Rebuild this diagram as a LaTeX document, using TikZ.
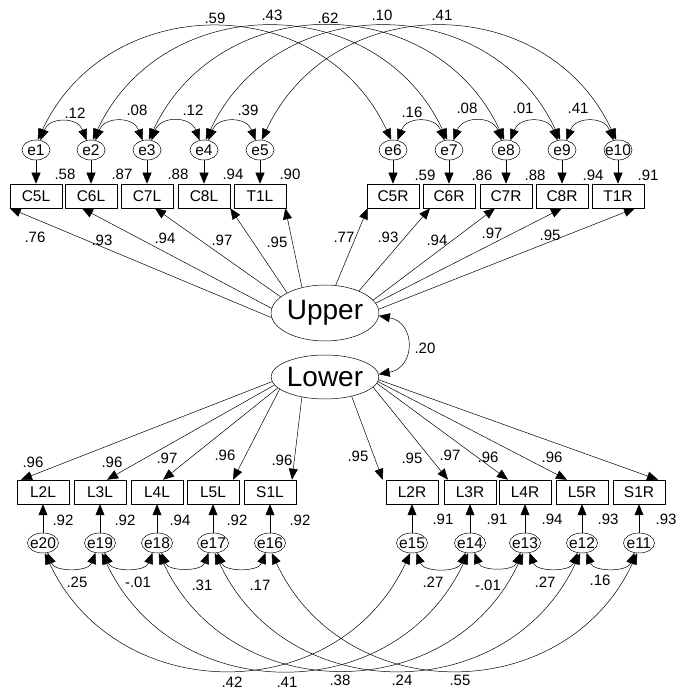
\documentclass[tikz,border=0pt]{standalone}
\usepackage{fontspec}
\setmainfont{Liberation Sans}
\usetikzlibrary{shapes.geometric}
\usetikzlibrary{arrows.meta}

\begin{document}
\begin{tikzpicture}[x=1pt, y=1pt, line width=0.5pt,
  >={Triangle[length=11pt,width=9pt]},
  obs/.style={draw, rectangle, minimum width=52pt, minimum height=24pt,
    inner sep=0pt, font=\fontsize{15.5}{18}\selectfont},
  err/.style={draw, ellipse, minimum width=28pt, minimum height=20pt,
    inner xsep=-4pt, inner ysep=0pt, font=\fontsize{15.5}{18}\selectfont},
  lat/.style={draw, ellipse, minimum width=106pt, inner sep=0pt,
    font=\fontsize{28}{32}\selectfont},
  val/.style={inner sep=0pt, font=\fontsize{15}{17}\selectfont}]
\useasboundingbox (0,0) rectangle (678,696);

% latent factors
\node[lat, minimum height=56pt] (Upper) at (325,383) {Upper};
\node[lat, minimum height=44pt] (Lower) at (325,319) {Lower};
\draw[<->] (Upper.-3) to[out=-10, in=10, looseness=1.65] (Lower.3);
\node[val] (v20) at (425,348) {.20};

% upper indicators
\node[obs] (C5L) at (36,500) {C5L};
\node[obs] (C6L) at (91,500) {C6L};
\node[obs] (C7L) at (147,500) {C7L};
\node[obs] (C8L) at (204,500) {C8L};
\node[obs] (T1L) at (260,500) {T1L};
\node[obs] (C5R) at (393,500) {C5R};
\node[obs] (C6R) at (449,500) {C6R};
\node[obs] (C7R) at (506,500) {C7R};
\node[obs] (C8R) at (562,500) {C8R};
\node[obs] (T1R) at (618,500) {T1R};

\node[err] (e1) at (36,546) {e1};
\node[err] (e2) at (91,546) {e2};
\node[err] (e3) at (147,546) {e3};
\node[err] (e4) at (204,546) {e4};
\node[err] (e5) at (260,546) {e5};
\node[err] (e6) at (393,546) {e6};
\node[err] (e7) at (449,546) {e7};
\node[err] (e8) at (506,546) {e8};
\node[err] (e9) at (562,546) {e9};
\node[err] (e10) at (618,546) {e10};

% lower indicators
\node[obs] (L2L) at (43,204) {L2L};
\node[obs] (L3L) at (100,204) {L3L};
\node[obs] (L4L) at (157,204) {L4L};
\node[obs] (L5L) at (213,204) {L5L};
\node[obs] (S1L) at (270,204) {S1L};
\node[obs] (L2R) at (412,204) {L2R};
\node[obs] (L3R) at (470,204) {L3R};
\node[obs] (L4R) at (525,204) {L4R};
\node[obs] (L5R) at (582,204) {L5R};
\node[obs] (S1R) at (639,204) {S1R};

\node[err, minimum width=31pt] (e20) at (43,153) {e20};
\node[err, minimum width=31pt] (e19) at (100,153) {e19};
\node[err, minimum width=31pt] (e18) at (157,153) {e18};
\node[err, minimum width=31pt] (e17) at (213,153) {e17};
\node[err, minimum width=31pt] (e16) at (270,153) {e16};
\node[err, minimum width=31pt] (e15) at (412,153) {e15};
\node[err, minimum width=31pt] (e14) at (470,153) {e14};
\node[err, minimum width=31pt] (e13) at (525,153) {e13};
\node[err, minimum width=31pt] (e12) at (582,153) {e12};
\node[err, minimum width=31pt] (e11) at (639,153) {e11};

% loadings of Upper
\draw[->] (Upper.185) -- (C5L.south west);
\draw[->] (Upper.175) -- ([xshift=-9pt]C6L.south);
\draw[->] (Upper.160) -- ([xshift=8pt]C7L.south);
\draw[->] (Upper.152) -- (C8L.south east);
\draw[->] (Upper.132) -- ([xshift=-1pt]T1L.south east);
\draw[->] (Upper.69) -- ([xshift=1pt]C5R.south west);
\draw[->] (Upper.33) -- ([xshift=-19pt]C6R.south);
\draw[->] (Upper.15) -- ([xshift=-11pt]C7R.south);
\draw[->] (Upper.11) -- (C8R.south);
\draw[->] (Upper.4) -- ([xshift=17pt]T1R.south);

\node[val] (w1) at (35,459) {.76};
\node[val] (w2) at (102,456) {.93};
\node[val] (w3) at (165,458) {.94};
\node[val] (w4) at (222,456) {.97};
\node[val] (w5) at (277,454) {.95};
\node[val] (w6) at (344,459) {.77};
\node[val] (w7) at (388,459) {.93};
\node[val] (w8) at (437,456) {.94};
\node[val] (w9) at (492,463) {.97};
\node[val] (w10) at (550,461) {.95};

% loadings of Lower
\draw[->] (Lower.185) -- ([xshift=-22pt]L2L.north);
\draw[->] (Lower.189) -- ([xshift=7pt]L3L.north);
\draw[->] (Lower.193) -- ([xshift=6pt]L4L.north);
\draw[->] (Lower.195) -- ([xshift=20pt]L5L.north);
\draw[->] (Lower.221) -- ([xshift=22pt]S1L.north);
\draw[->] (Lower.324) -- ([xshift=-3pt]L2R.north west);
\draw[->] (Lower.348) -- ([xshift=-22pt]L3R.north);
\draw[->] (Lower.353) -- ([xshift=-17pt]L4R.north);
\draw[->] (Lower.355) -- ([xshift=-15pt]L5R.north);
\draw[->] (Lower.357) -- ([xshift=19pt]S1R.north);

\node[val] (w11) at (33,234) {.96};
\node[val] (w12) at (112,234) {.96};
\node[val] (w13) at (167,238) {.97};
\node[val] (w14) at (225,241) {.96};
\node[val] (w15) at (282,236) {.96};
\node[val] (w16) at (358,240) {.95};
\node[val] (w17) at (412,238) {.95};
\node[val] (w18) at (450,241) {.97};
\node[val] (w19) at (488,239) {.96};
\node[val] (w20) at (552,239) {.96};

% residual paths
\draw[->] (e1) -- (C5L);
\draw[->] (e2) -- (C6L);
\draw[->] (e3) -- (C7L);
\draw[->] (e4) -- (C8L);
\draw[->] (e5) -- (T1L);
\draw[->] (e6) -- (C5R);
\draw[->] (e7) -- (C6R);
\draw[->] (e8) -- (C7R);
\draw[->] (e9) -- (C8R);
\draw[->] (e10) -- (T1R);
\draw[->] (e20) -- (L2L);
\draw[->] (e19) -- (L3L);
\draw[->] (e18) -- (L4L);
\draw[->] (e17) -- (L5L);
\draw[->] (e16) -- (S1L);
\draw[->] (e15) -- (L2R);
\draw[->] (e14) -- (L3R);
\draw[->] (e13) -- (L4R);
\draw[->] (e12) -- (L5R);
\draw[->] (e11) -- (S1R);

\node[val] (r1) at (65,522) {.58};
\node[val] (r2) at (122,522) {.87};
\node[val] (r3) at (178,522) {.88};
\node[val] (r4) at (233,522) {.94};
\node[val] (r5) at (290,522) {.90};
\node[val] (r6) at (425,521) {.59};
\node[val] (r7) at (482,521) {.86};
\node[val] (r8) at (535,521) {.88};
\node[val] (r9) at (593,521) {.94};
\node[val] (r10) at (648,521) {.91};
\node[val] (r20) at (63,176) {.92};
\node[val] (r19) at (125,176) {.92};
\node[val] (r18) at (180,176) {.94};
\node[val] (r17) at (237,176) {.92};
\node[val] (r16) at (300,176) {.92};
\node[val] (r15) at (443,177) {.91};
\node[val] (r14) at (497,177) {.91};
\node[val] (r13) at (552,177) {.94};
\node[val] (r12) at (608,177) {.93};
\node[val] (r11) at (666,177) {.93};

% correlated residuals, top
\draw[<->] (e1.65) to[bend left=70, looseness=1.4] (e2.115);
\draw[<->] (e2.65) to[bend left=70, looseness=1.4] (e3.115);
\draw[<->] (e3.65) to[bend left=70, looseness=1.4] (e4.115);
\draw[<->] (e4.65) to[bend left=70, looseness=1.4] (e5.115);
\draw[<->] (e6.65) to[bend left=70, looseness=1.4] (e7.115);
\draw[<->] (e7.65) to[bend left=70, looseness=1.4] (e8.115);
\draw[<->] (e8.65) to[bend left=70, looseness=1.4] (e9.115);
\draw[<->] (e9.65) to[bend left=70, looseness=1.4] (e10.115);
\draw[<->] (e1.80) to[bend left=65, looseness=1.2] (e6.100);
\draw[<->] (e2.80) to[bend left=65, looseness=1.2] (e7.100);
\draw[<->] (e3.80) to[bend left=65, looseness=1.2] (e8.100);
\draw[<->] (e4.80) to[bend left=65, looseness=1.2] (e9.100);
\draw[<->] (e5.80) to[bend left=65, looseness=1.2] (e10.100);

\node[val] (c1) at (75,583) {.12};
\node[val] (c2) at (137,586) {.08};
\node[val] (c3) at (193,586) {.12};
\node[val] (c4) at (248,586) {.39};
\node[val] (c6) at (412,584) {.16};
\node[val] (c7) at (467,588) {.08};
\node[val] (c8) at (523,588) {.01};
\node[val] (c9) at (578,588) {.41};
\node[val] (k1) at (215,678) {.59};
\node[val] (k2) at (272,681) {.43};
\node[val] (k3) at (328,678) {.62};
\node[val] (k4) at (382,681) {.10};
\node[val] (k5) at (442,681) {.41};

% correlated residuals, bottom
\draw[<->] (e20.-65) to[bend right=70, looseness=1.1] (e19.-115);
\draw[<->] (e19.-65) to[bend right=70, looseness=1.1] (e18.-115);
\draw[<->] (e18.-65) to[bend right=70, looseness=1.1] (e17.-115);
\draw[<->] (e17.-65) to[bend right=70, looseness=1.1] (e16.-115);
\draw[<->] (e15.-65) to[bend right=70, looseness=1.1] (e14.-115);
\draw[<->] (e14.-65) to[bend right=70, looseness=1.1] (e13.-115);
\draw[<->] (e13.-65) to[bend right=70, looseness=1.1] (e12.-115);
\draw[<->] (e12.-65) to[bend right=70, looseness=1.1] (e11.-115);
\draw[<->] (e20.-80) to[bend right=65, looseness=1.2] (e15.-100);
\draw[<->] (e19.-80) to[bend right=65, looseness=1.2] (e14.-100);
\draw[<->] (e18.-80) to[bend right=65, looseness=1.2] (e13.-100);
\draw[<->] (e17.-80) to[bend right=65, looseness=1.2] (e12.-100);
\draw[<->] (e16.-80) to[bend right=65, looseness=1.2] (e11.-100);

\node[val] (c20) at (77,114) {.25};
\node[val] (c19) at (138,114) {-.01};
\node[val] (c18) at (202,111) {.31};
\node[val] (c17) at (260,111) {.17};
\node[val] (c15) at (433,114) {.27};
\node[val] (c14) at (488,111) {-.01};
\node[val] (c13) at (545,114) {.27};
\node[val] (c12) at (600,116) {.16};
\node[val] (k20) at (232,14) {.42};
\node[val] (k19) at (287,14) {.41};
\node[val] (k18) at (340,16) {.38};
\node[val] (k17) at (402,16) {.24};
\node[val] (k16) at (460,16) {.55};
\end{tikzpicture}
\end{document}
